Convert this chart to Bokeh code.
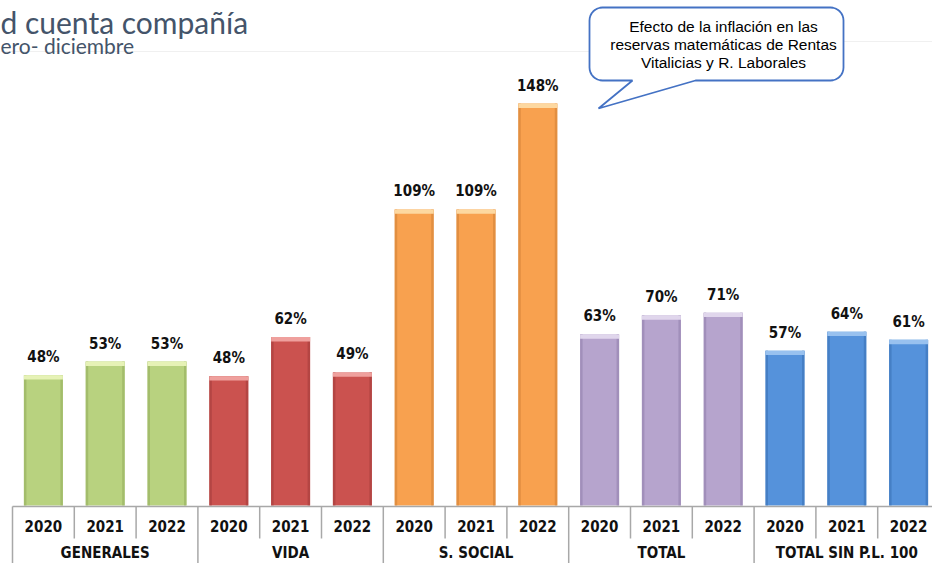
import math
from bokeh.plotting import figure
from bokeh.models import Range1d, ColumnDataSource
from bokeh.core.properties import value
from bokeh.embed import file_html
from bokeh.resources import INLINE

# ---------------- data ----------------
groups = ["GENERALES", "VIDA", "S. SOCIAL", "TOTAL", "TOTAL SIN P.L. 100"]
years = ["2020", "2021", "2022"]
generales = [48, 53, 53]
vida = [47.6, 62, 49]
s_social = [109, 109, 148]
total = [63, 70, 71]
total_sin_pl100 = [57, 64, 61]
title_text = "d cuenta compañía"
subtitle_text = "ero- diciembre"
callout_lines = ["Efecto de la inflación en las",
                 "reservas matemáticas de Rentas",
                 "Vitalicias y R. Laborales"]

series = [generales, vida, s_social, total, total_sin_pl100]
fills = ["#B8D27F", "#CB524F", "#F8A14F", "#B6A4CD", "#5592DB"]
lights = ["#E6F2B6", "#EFA09D", "#FDD8A0", "#E0D6EC", "#98C1EF"]
darks = ["#9AB363", "#A9403E", "#D9883C", "#9986B2", "#3F77BC"]

# ---------------- geometry helpers (picture pixels -> data) ----------------
W, H = 932, 563
PX_PER_CAT = 61.8
PX_PER_PCT = 2.716
LEFT_EDGE = 12
BASE = 505


def X(px):
    return (px - LEFT_EDGE) / PX_PER_CAT - 0.5


def Y(py):
    return (BASE - py) / PX_PER_PCT


p = figure(width=W, height=H, output_backend="svg", toolbar_location=None,
           x_range=Range1d(X(0), X(W)), y_range=Range1d(Y(H), Y(0)),
           x_axis_location=None, y_axis_location=None,
           min_border=0, min_border_left=0, min_border_right=0,
           min_border_top=0, min_border_bottom=0)
p.grid.visible = False
p.outline_line_color = None
p.background_fill_color = "white"
p.border_fill_color = "white"

NARROW = value("'Liberation Sans Narrow', 'Arial Narrow', 'DejaVu Sans Condensed', sans-serif")

# faint header separator lines (drawn first, behind everything)
p.segment(x0=[X(0)], y0=[Y(51)], x1=[X(589)], y1=[Y(51)], line_color="#F0F0F0", line_width=1)
p.segment(x0=[X(843)], y0=[Y(41)], x1=[X(W)], y1=[Y(41)], line_color="#F0F0F0", line_width=1)

# ---------------- bars ----------------
xs, vals, fc, lc, dc, lab, yl = [], [], [], [], [], [], []
for gi, g in enumerate(groups):
    for yi, yr in enumerate(years):
        xs.append(gi * len(years) + yi)
        v = series[gi][yi]
        vals.append(v)
        fc.append(fills[gi])
        lc.append(lights[gi])
        dc.append(darks[gi])
        lab.append(f"{v:.0f}%")
        yl.append(yr)

src = ColumnDataSource(dict(x=xs, top=vals, fill=fc, light=lc, dark=dc, label=lab,
                            year=yl, band=[v - 1.6 for v in vals]))
BW = 39 / PX_PER_CAT
SIDE = 2.5 / PX_PER_CAT
p.vbar(x="x", top="top", bottom=0, width=BW, source=src,
       fill_color="fill", line_color=None)
src_l = ColumnDataSource(dict(x=[x - BW / 2 + SIDE / 2 for x in xs], top=vals, dark=dc))
src_r = ColumnDataSource(dict(x=[x + BW / 2 - SIDE / 2 for x in xs], top=vals, dark=dc))
p.vbar(x="x", top="top", bottom=0, width=SIDE, source=src_l,
       fill_color="dark", fill_alpha=0.7, line_color=None)
p.vbar(x="x", top="top", bottom=0, width=SIDE, source=src_r,
       fill_color="dark", fill_alpha=0.7, line_color=None)
p.vbar(x="x", top="top", bottom="band", width=BW, source=src,
       fill_color="light", line_color=None)

p.text(x="x", y="top", text="label", source=src, text_align="center",
       text_baseline="bottom", y_offset=-9, text_font=NARROW,
       text_font_style="bold", text_font_size="15px", text_color="#111111")

# ---------------- category table ----------------
n = len(xs)
grid_col = "#A8A8A8"
p.segment(x0=[-0.5], y0=[Y(506)], x1=[n - 0.5], y1=[Y(506)], line_color=grid_col, line_width=1.5)
yb = [gi * len(years) + k - 0.5 for gi in range(len(groups)) for k in range(1, len(years))]
p.segment(x0=yb, y0=[Y(506)] * len(yb), x1=yb, y1=[Y(538)] * len(yb),
          line_color=grid_col, line_width=1.5)
gb = [gi * len(years) - 0.5 for gi in range(len(groups) + 1)]
p.segment(x0=gb, y0=[Y(506)] * len(gb), x1=gb, y1=[Y(H)] * len(gb),
          line_color=grid_col, line_width=1.5)

p.text(x="x", y=Y(525), text="year", source=src, text_align="center",
       text_baseline="middle", text_font=NARROW, text_font_style="bold",
       text_font_size="15px", text_color="#111111")
gx = [gi * len(years) + (len(years) - 1) / 2 for gi in range(len(groups))]
p.text(x=gx, y=[Y(552)] * len(groups), text=groups, text_align="center",
       text_baseline="middle", text_font=NARROW, text_font_style="bold",
       text_font_size="15px", text_color="#111111")

# ---------------- title ----------------
p.text(x=[X(0)], y=[Y(21)], text=[title_text], text_align="left",
       text_baseline="alphabetic", text_font=value("Lato"),
       text_font_size="30px", text_color="#44546A")
p.text(x=[X(0)], y=[Y(45)], text=[subtitle_text], text_align="left",
       text_baseline="alphabetic", text_font=value("Lato"),
       text_font_size="21px", text_color="#44546A")

# ---------------- callout ----------------
x0, y0, x1, y1, r = 589, 7, 843, 80, 13
pts = []


def arc(cx, cy, a0, a1, steps=8):
    for k in range(steps + 1):
        a = math.radians(a0 + (a1 - a0) * k / steps)
        pts.append((cx + r * math.cos(a), cy + r * math.sin(a)))


arc(x1 - r, y0 + r, -90, 0)
arc(x1 - r, y1 - r, 0, 90)
pts += [(695, y1), (598, 108), (632, y1)]
arc(x0 + r, y1 - r, 90, 180)
arc(x0 + r, y0 + r, 180, 270)
p.patch(x=[X(a) for a, b in pts], y=[Y(b) for a, b in pts], fill_color="white",
        line_color="#4472C4", line_width=1.8)
p.text(x=[X(723)] * 3, y=[Y(26), Y(44), Y(62)], text=callout_lines,
       text_align="center", text_baseline="middle",
       text_font=value("Liberation Sans"), text_font_size="15.5px",
       text_color="#000000")

open("out.html", "w").write(file_html(p, INLINE))
